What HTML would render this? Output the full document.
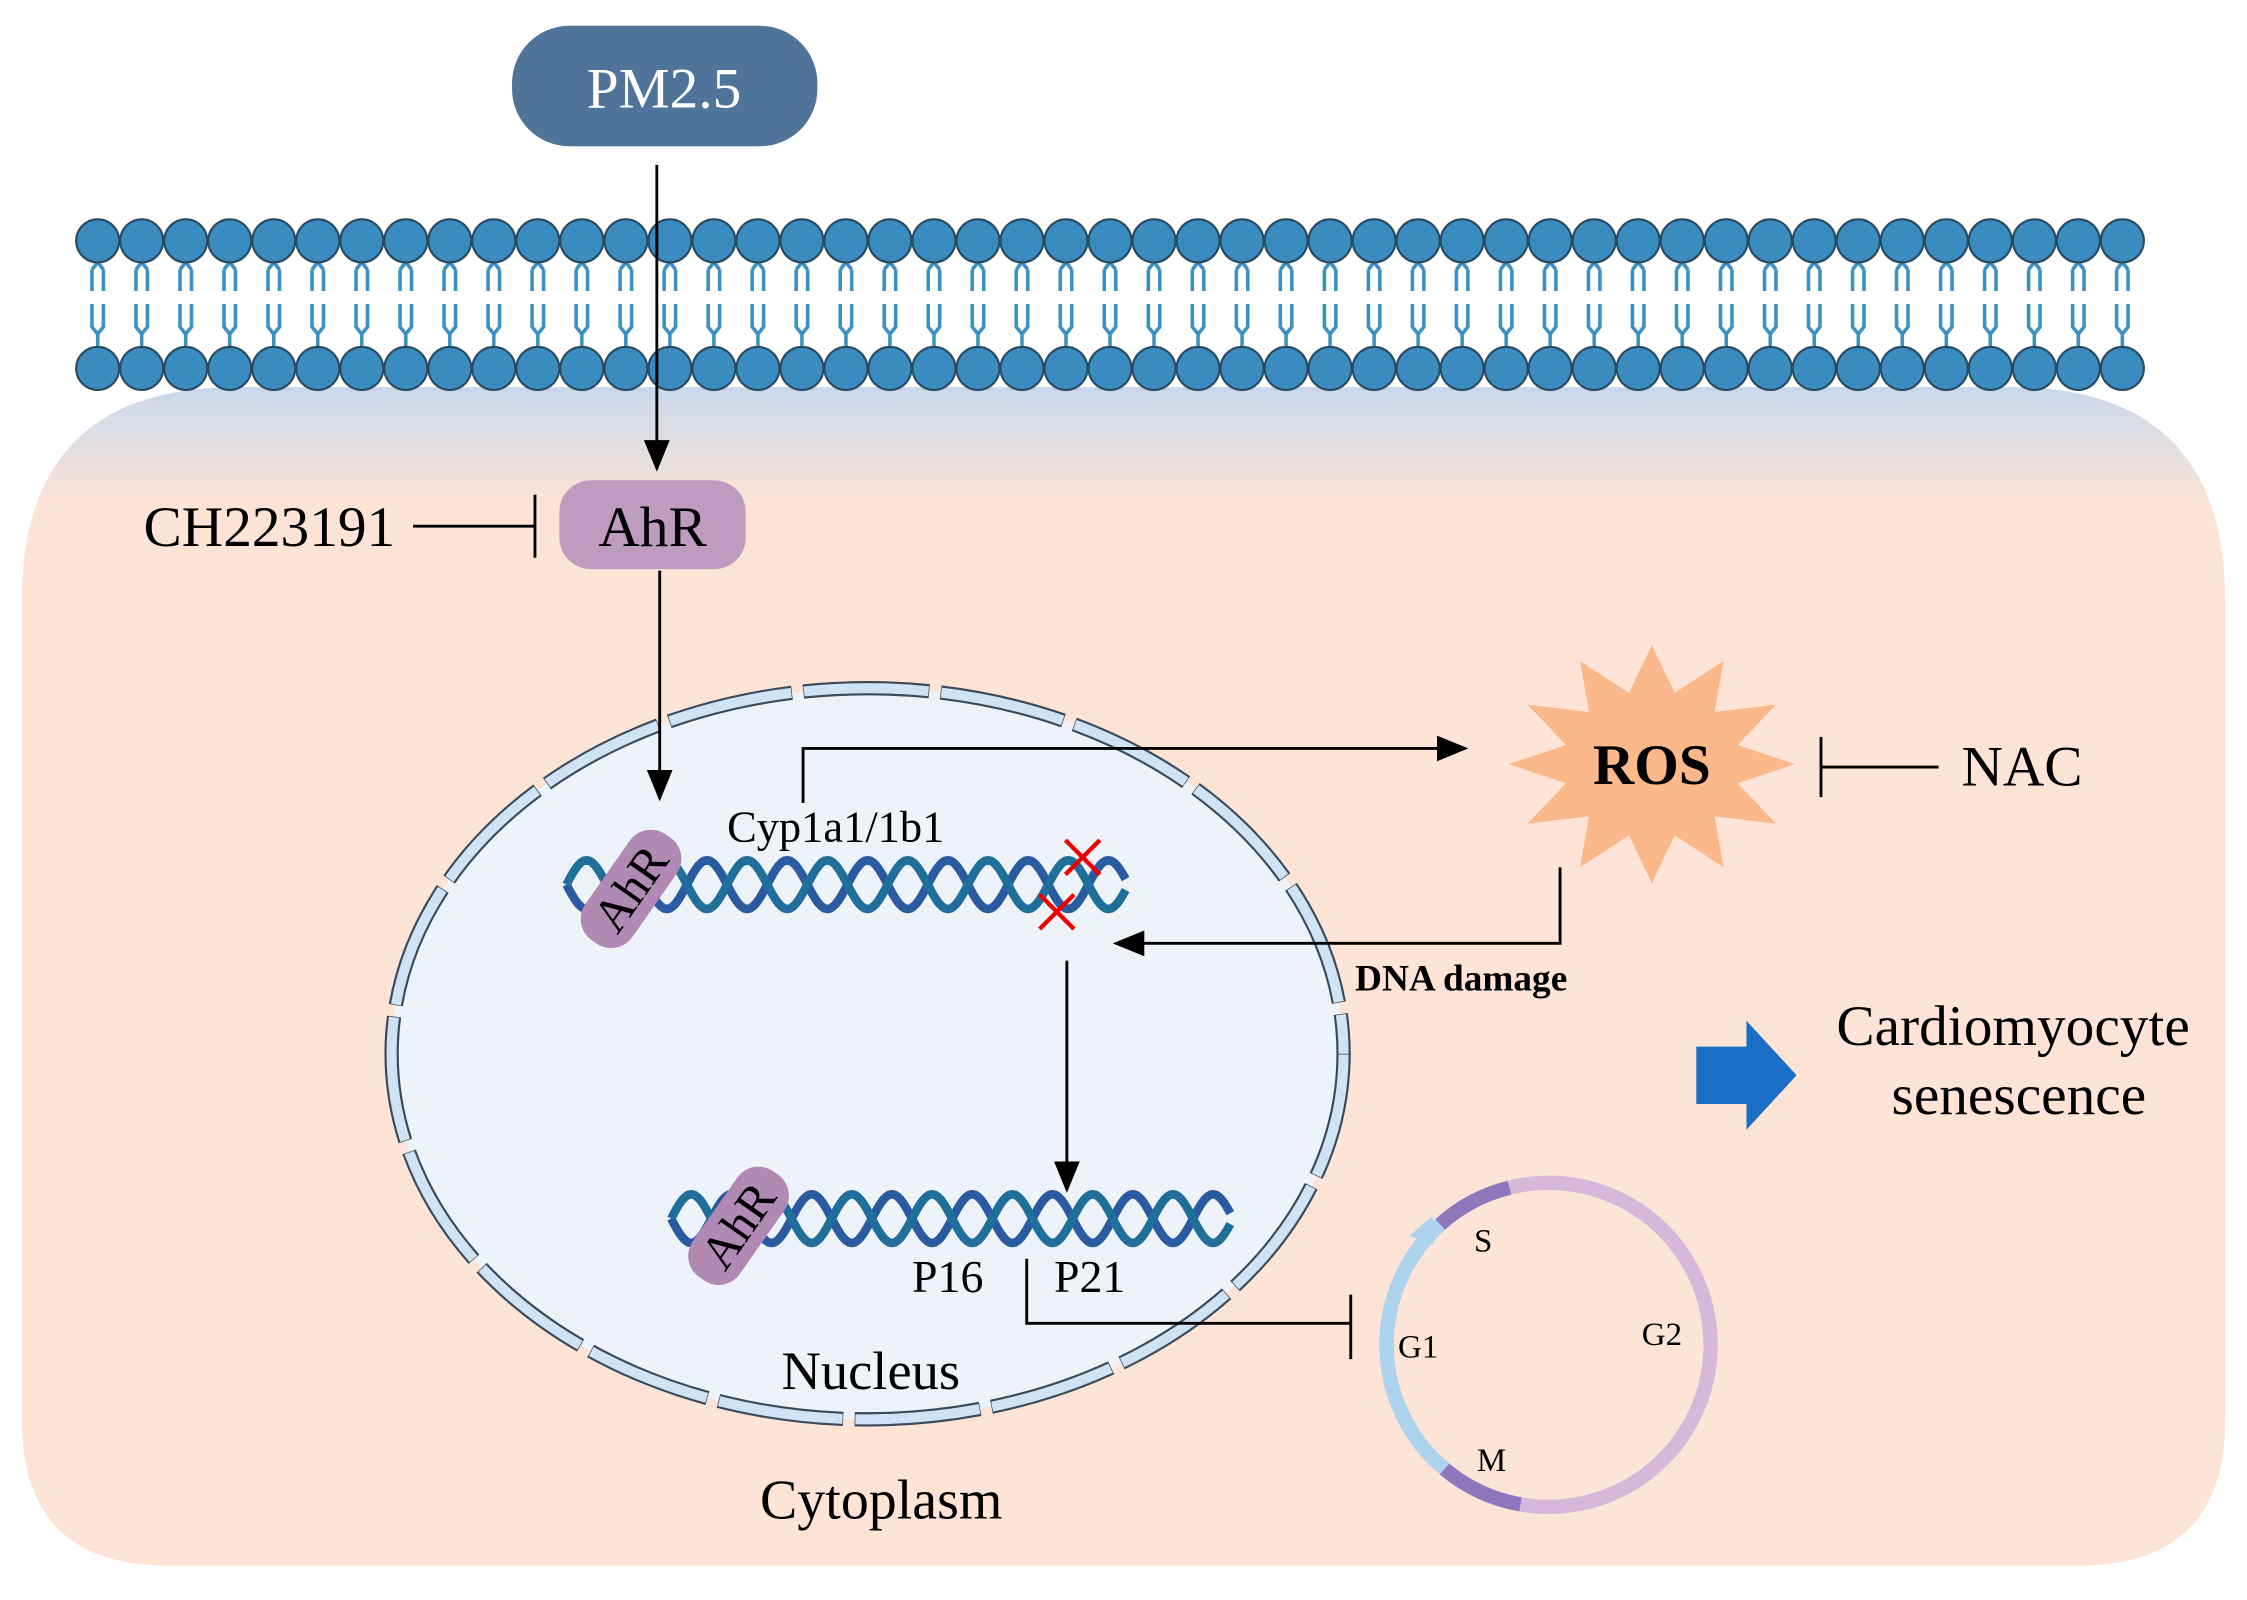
<!DOCTYPE html>
<html><head><meta charset="utf-8"><style>
html,body{margin:0;padding:0;background:#fff;}
svg{display:block;}
text{font-family:"Liberation Serif",serif;}
</style></head><body>
<svg id="s" width="2247" height="1600" viewBox="0 0 1567 1116" xmlns="http://www.w3.org/2000/svg">
<defs>
<linearGradient id="cg" x1="0" y1="0" x2="0" y2="1">
<stop offset="0" stop-color="#c8d8ec"/>
<stop offset="0.1" stop-color="#fde4d6"/>
<stop offset="1" stop-color="#fde4d6"/>
</linearGradient>
<marker id="ah2" markerWidth="22" markerHeight="18" refX="20" refY="9" orient="auto" markerUnits="userSpaceOnUse"><path d="M0,0 L22,9 L0,18 z" fill="#000"/></marker>
</defs>
<path d="M15,420 Q15,270 165,270 L1402,270 Q1552,270 1552,420 L1552,990 Q1552,1092 1450,1092 L117,1092 Q15,1092 15,990 Z" fill="url(#cg)"/>
<g id="mem"></g>
<rect x="357" y="18" width="213" height="84" rx="40" fill="#4f7399"/>
<text x="463" y="75" font-size="40" fill="#fff" text-anchor="middle">PM2.5</text>
<line x1="458" y1="115" x2="458" y2="327" stroke="#000" stroke-width="2" marker-end="url(#ah2)"/>
<rect x="390" y="335" width="130" height="62" rx="22" fill="#bf9bc0"/>
<text x="455" y="381" font-size="40" text-anchor="middle">AhR</text>
<text x="100" y="381" font-size="40">CH223191</text>
<line x1="288" y1="367" x2="373" y2="367" stroke="#000" stroke-width="2"/>
<line x1="373" y1="345" x2="373" y2="389" stroke="#000" stroke-width="2"/>
<ellipse cx="605" cy="735" rx="332" ry="255" fill="#eef2f9"/>
<ellipse cx="605" cy="735" rx="332" ry="255" fill="none" stroke="#3a4a5a" stroke-width="10" stroke-dasharray="88 8"/>
<ellipse cx="605" cy="735" rx="332" ry="255" fill="none" stroke="#cfe3f4" stroke-width="7" stroke-dasharray="87 9" stroke-dashoffset="-0.5"/>
<line x1="460" y1="398" x2="460" y2="557" stroke="#000" stroke-width="2" marker-end="url(#ah2)"/>
<g id="dna"></g>
<text x="507" y="587" font-size="31">Cyp1a1/1b1</text>
<polyline points="560,560 560,522 1022,522" fill="none" stroke="#000" stroke-width="2" marker-end="url(#ah2)"/>
<polygon id="star" fill="#fbb88a"/>
<text x="1152" y="547" font-size="40" font-weight="bold" text-anchor="middle">ROS</text>
<line x1="1270" y1="514" x2="1270" y2="556" stroke="#000" stroke-width="2"/>
<line x1="1270" y1="535" x2="1352" y2="535" stroke="#000" stroke-width="2"/>
<text x="1368" y="548" font-size="40">NAC</text>
<polyline points="1088,605 1088,658 778,658" fill="none" stroke="#000" stroke-width="2" marker-end="url(#ah2)"/>
<text x="945" y="691" font-size="26" font-weight="bold">DNA damage</text>
<g stroke="#e00" stroke-width="3">
<line x1="743" y1="586" x2="767" y2="610"/><line x1="767" y1="586" x2="743" y2="610"/>
<line x1="725" y1="624" x2="749" y2="648"/><line x1="749" y1="624" x2="725" y2="648"/>
</g>
<line x1="744" y1="670" x2="744" y2="830" stroke="#000" stroke-width="2" marker-end="url(#ah2)"/>
<text x="636" y="901" font-size="32">P16</text>
<text x="735" y="901" font-size="32">P21</text>
<polyline points="716,878 716,923 942,923" fill="none" stroke="#000" stroke-width="2"/>
<line x1="942" y1="903" x2="942" y2="948" stroke="#000" stroke-width="2"/>
<text x="545" y="969" font-size="38">Nucleus</text>
<text x="530" y="1059" font-size="39">Cytoplasm</text>
<g fill="none" stroke-width="10">
<circle cx="1080" cy="938" r="113" stroke="#d9b7da"/>
<path id="g1arc" stroke="#acd4ef"/>
<path id="sarc" stroke="#8d78bd"/>
<path id="marc" stroke="#8d78bd"/>
</g>
<polygon points="983,862 999,848 1000,868" fill="#acd4ef"/>
<text x="1028" y="873" font-size="23">S</text>
<text x="975" y="947" font-size="23">G1</text>
<text x="1145" y="938" font-size="23">G2</text>
<text x="1030" y="1026" font-size="23">M</text>
<polygon points="1183,730 1218,730 1218,712 1253,750 1218,788 1218,770 1183,770" fill="#1a6fc4"/>
<text x="1404" y="729" font-size="40" text-anchor="middle">Cardiomyocyte</text>
<text x="1408" y="777" font-size="40" text-anchor="middle">senescence</text>
</svg>
<script>
var NS="http://www.w3.org/2000/svg";
function el(p,t,a){var e=document.createElementNS(NS,t);for(var k in a)e.setAttribute(k,a[k]);p.appendChild(e);return e;}
var mem=document.getElementById("mem");
for(var i=0;i<47;i++){var x=68+i*30.7;
 el(mem,"path",{d:"M"+x+",176 L"+x+",184 M"+(x-4)+",188 L"+x+",183 L"+(x+4)+",188 M"+(x-4)+",188 L"+(x-4)+",203 M"+(x+4)+",188 L"+(x+4)+",203 M"+(x-4)+",212 L"+(x-4)+",228 L"+x+",233 L"+(x+4)+",228 L"+(x+4)+",212 M"+x+",233 L"+x+",245",fill:"none",stroke:"#3c91c4","stroke-width":"2.5"});
}
for(var i=0;i<47;i++){var x=68+i*30.7;
 el(mem,"circle",{cx:x,cy:168,r:15,fill:"#3a8cc0",stroke:"#2a4a60","stroke-width":"1.5"});
 el(mem,"circle",{cx:x,cy:257,r:15,fill:"#3a8cc0",stroke:"#2a4a60","stroke-width":"1.5"});
}
function dna(x0,x1,yc,amp){var g=document.getElementById("dna");var per=56;
 for(var s=0;s<2;s++){var d="";for(var x=x0;x<=x1;x+=2){var y=yc+amp*Math.sin((x-x0)/per*2*Math.PI+s*Math.PI);d+=(d?"L":"M")+x+","+y.toFixed(1);}
 el(g,"path",{d:d,fill:"none",stroke:s?"#1f6f9a":"#2a5aa0","stroke-width":"6"});}
}
dna(395,785,617,17);dna(468,858,850,17);
var g=document.getElementById("dna");
function pill(cx,cy){var gg=el(g,"g",{transform:"rotate(-55 "+cx+" "+cy+")"});
 el(gg,"rect",{x:cx-45,y:cy-20,width:90,height:40,rx:18,fill:"#b08ab4"});
 var t=el(gg,"text",{x:cx,y:cy+11,"font-size":"34","text-anchor":"middle"});t.textContent="AhR";}
pill(440,620);pill(515,855);
var N=24,pts=[];for(var i=0;i<N;i++){var a=i/N*2*Math.PI-Math.PI/2;var r=i%2?62:100;pts.push((1152+r*Math.cos(a)).toFixed(1)+","+(533+r*0.83*Math.sin(a)).toFixed(1));}
document.getElementById("star").setAttribute("points",pts.join(" "));
function arc(a0,a1){var r=113,cx=1080,cy=938;function p(a){a=a*Math.PI/180;return (cx+r*Math.cos(a)).toFixed(1)+","+(cy+r*Math.sin(a)).toFixed(1);}
 return "M"+p(a0)+" A"+r+","+r+" 0 0,1 "+p(a1);}
document.getElementById("g1arc").setAttribute("d",arc(130,228));
document.getElementById("sarc").setAttribute("d",arc(228,256));
document.getElementById("marc").setAttribute("d",arc(100,130));
</script>
</body></html>
